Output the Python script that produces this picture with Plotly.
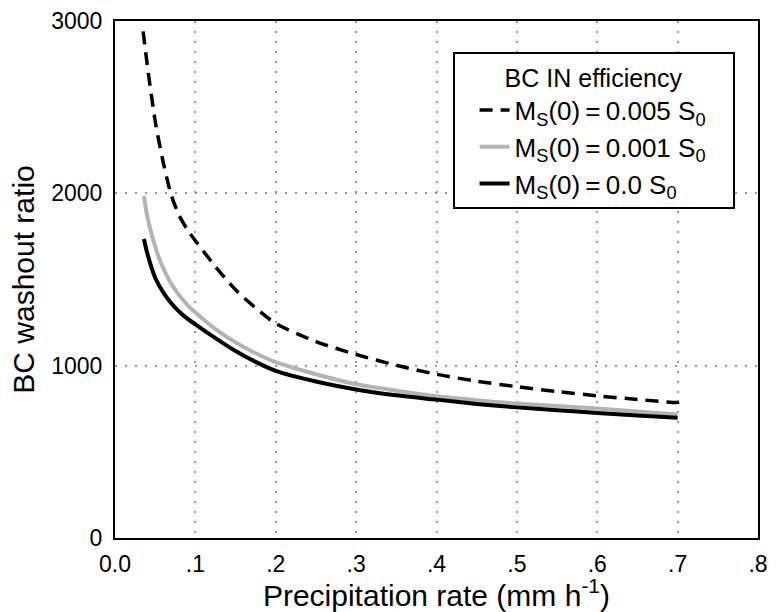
import plotly.graph_objects as go

# precipitation rate (mm/h) and BC washout ratio
rate_005 = [0.035, 0.04, 0.05, 0.06, 0.07, 0.08, 0.09, 0.1, 0.125, 0.15, 0.175, 0.2,
            0.25, 0.3, 0.35, 0.4, 0.45, 0.5, 0.55, 0.6, 0.65, 0.7, 0.705]
ratio_005 = [2940, 2750, 2420, 2180, 1990, 1870, 1790, 1725, 1575, 1440, 1335, 1245,
             1140, 1065, 1002, 950, 910, 878, 850, 825, 804, 787, 792]

rate = [0.036, 0.04, 0.05, 0.06, 0.07, 0.08, 0.09, 0.1, 0.125, 0.15, 0.175, 0.2,
        0.25, 0.3, 0.35, 0.4, 0.45, 0.5, 0.55, 0.6, 0.65, 0.7]
ratio_001 = [1985, 1870, 1690, 1565, 1475, 1408, 1353, 1308, 1212, 1135, 1072, 1020,
             950, 892, 855, 823, 800, 780, 766, 752, 734, 717]
ratio_000 = [1735, 1655, 1510, 1425, 1362, 1313, 1273, 1240, 1160, 1085, 1022, 970,
             908, 862, 828, 803, 778, 758, 742, 726, 711, 698]

xticks = [0, 0.1, 0.2, 0.3, 0.4, 0.5, 0.6, 0.7, 0.8]
xlabels = ["0.0", ".1", ".2", ".3", ".4", ".5", ".6", ".7", ".8"]
yticks = [0, 1000, 2000, 3000]

FONT = "Liberation Sans, Arial, sans-serif"
PAD = "\u00a0\u00a0\u00a0"  # widens the legend box to the reference's size

fig = go.Figure()
fig.add_trace(go.Scatter(x=rate_005, y=ratio_005, mode="lines",
                         name="M<sub>S</sub>(0)\u2009=\u20090.005 S<sub>0</sub>" + PAD,
                         line=dict(color="black", width=3.5, dash="13px,8px",
                                   shape="spline", smoothing=0.8)))
fig.add_trace(go.Scatter(x=rate, y=ratio_001, mode="lines",
                         name="M<sub>S</sub>(0)\u2009=\u20090.001 S<sub>0</sub>" + PAD,
                         line=dict(color="#b3b3b3", width=4, shape="spline", smoothing=0.8)))
fig.add_trace(go.Scatter(x=rate, y=ratio_000, mode="lines",
                         name="M<sub>S</sub>(0)\u2009=\u20090.0 S<sub>0</sub>",
                         line=dict(color="black", width=4, shape="spline", smoothing=0.8)))

axis_common = dict(showline=True, linecolor="black", linewidth=2, mirror=True,
                   ticks="", showgrid=True, gridcolor="#999999", gridwidth=2,
                   griddash="2px,8px", zeroline=False, ticklabeloverflow="allow",
                   tickfont=dict(size=23, color="black", family=FONT))

fig.update_xaxes(range=[0, 0.8], tickvals=xticks, ticktext=xlabels,
                 ticklabelstandoff=4,
                 title=dict(text="Precipitation rate (mm h<sup>-1</sup>)",
                            font=dict(size=30, color="black", family=FONT), standoff=6),
                 **axis_common)
fig.update_yaxes(range=[0, 3000], tickvals=yticks,
                 ticklabelstandoff=6,
                 title=dict(text="BC washout ratio",
                            font=dict(size=30, color="black", family=FONT), standoff=8),
                 **axis_common)

fig.update_layout(
    width=776, height=612,
    margin=dict(l=115, r=8, t=9, b=67),
    plot_bgcolor="white", paper_bgcolor="white",
    font=dict(family=FONT, color="black"),
    legend=dict(
        title=dict(text="BC IN efficiency", font=dict(size=25), side="top center"),
        x=0.525, y=0.94, xanchor="left", yanchor="top",
        bgcolor="white", bordercolor="black", borderwidth=2,
        font=dict(size=26, family=FONT, color="black"),
        itemwidth=30, indentation=20,
    ),
)

# drop the default page margin so the figure sits at the window's corner
fig.write_html("out.html", config={"displayModeBar": False},
               post_script="document.body.style.margin='0';")
